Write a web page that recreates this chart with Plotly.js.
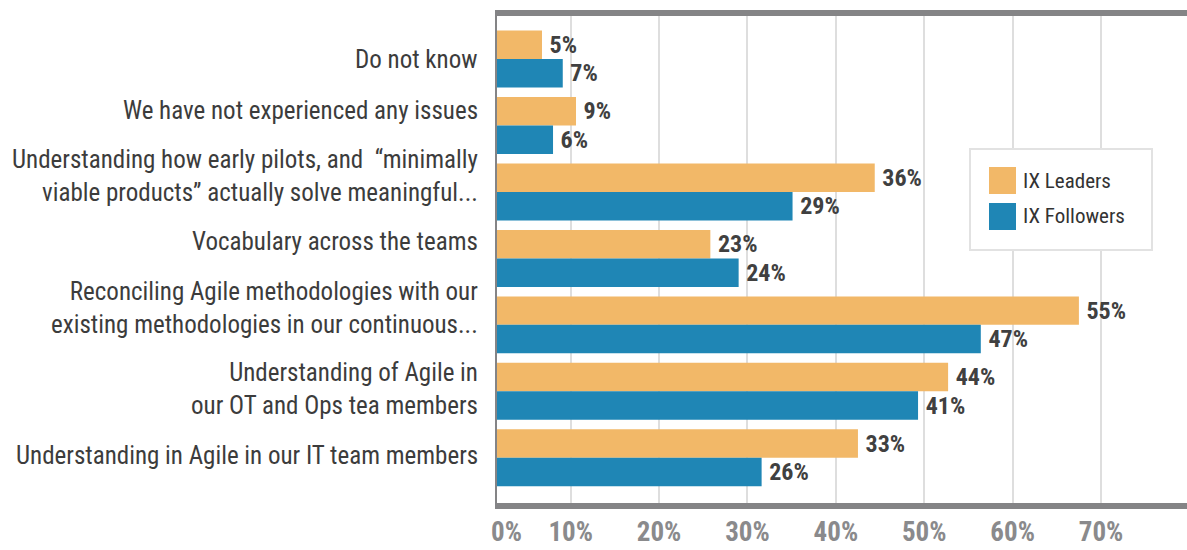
<!DOCTYPE html>
<html>
<head>
<meta charset="utf-8">
<script src="https://cdn.plot.ly/plotly-3.0.1.min.js"></script>
<style>html,body{margin:0;padding:0;background:#fff;}#chart{width:1187px;height:550px;}</style>
</head>
<body>
<div id="chart"></div>
<script>
// ---- data ----
const categories = [
  "Do not know",
  "We have not experienced any issues",
  "Understanding how early pilots, and  \u201cminimally<br>viable products\u201d actually solve meaningful...",
  "Vocabulary across the teams",
  "Reconciling Agile methodologies with our<br>existing methodologies in our continuous...",
  "Understanding of Agile in<br>our OT and Ops tea members",
  "Understanding in Agile in our IT team members"
];
const seriesNames = ["IX Leaders", "IX Followers"];
// bar lengths as drawn against the chart's axis
const leadersValues   = [6.75, 10.6, 44.4, 25.8, 67.5, 52.7, 42.5];
const followersValues = [9.1, 8.0, 35.1, 29.0, 56.4, 49.3, 31.6];
// printed value labels
const leadersLabels   = ["5%", "9%", "36%", "23%", "55%", "44%", "33%"];
const followersLabels = ["7%", "6%", "29%", "24%", "47%", "41%", "26%"];
// axis ticks
const gridVals = [10, 20, 30, 40, 50, 60, 70];
const tickLabelVals = [2.74, 10, 20, 30, 40, 50, 60, 70];
const tickLabelText = ["0%", "10%", "20%", "30%", "40%", "50%", "60%", "70%"];

// ---- styling / layout ----
const colors = ["#F2B868", "#1F86B5"];
const COND = "Roboto Condensed, Liberation Sans, Arial, sans-serif";
const xRange = [1.66, 79.73];
const categoryLabelLift = [0, 15, 15.5, 16.5, 17, 2.5, 2];   // px nudges of the category labels

const labelFont = {family: COND, size: 24, color: "#404040", weight: "bold"};

const traces = [
  {type: "bar", orientation: "h", name: seriesNames[0], y: categories, x: leadersValues,
   text: leadersLabels, texttemplate: "\u2009%{text}", textposition: "outside",
   textfont: labelFont, cliponaxis: false, constraintext: "none",
   marker: {color: colors[0]}, showlegend: false, hoverinfo: "skip"},
  {type: "bar", orientation: "h", name: seriesNames[1], y: categories, x: followersValues,
   text: followersLabels, texttemplate: "\u2009%{text}", textposition: "outside",
   textfont: labelFont, cliponaxis: false, constraintext: "none",
   marker: {color: colors[1]}, showlegend: false, hoverinfo: "skip"},
  // invisible helper trace so the tick-label axis is drawn
  {type: "scatter", x: [tickLabelVals[0]], y: [categories[0]], xaxis: "x2", yaxis: "y",
   mode: "markers", marker: {opacity: 0}, showlegend: false, hoverinfo: "skip"}
];

// legend drawn in pixel-matched paper coords
const L = 497, R = 1187, T = 16, B = 503;
const px = p => (p - L) / (R - L);
const py = p => (B - p) / (B - T);
const shapes = [
  {type: "rect", xref: "paper", yref: "paper", x0: px(970), x1: px(1152), y0: py(250), y1: py(149),
   line: {color: "#e2e2e2", width: 2}, fillcolor: "#ffffff", layer: "above"},
  {type: "rect", xref: "paper", yref: "paper", x0: px(989), x1: px(1016), y0: py(194), y1: py(167),
   line: {width: 0}, fillcolor: colors[0], layer: "above"},
  {type: "rect", xref: "paper", yref: "paper", x0: px(989), x1: px(1016), y0: py(230), y1: py(203),
   line: {width: 0}, fillcolor: colors[1], layer: "above"}
];
const annotations = [
  {xref: "paper", yref: "paper", x: px(1021), y: py(180.5), xanchor: "left", yanchor: "middle",
   text: seriesNames[0], showarrow: false, font: {family: COND, size: 21, color: "#333333"}},
  {xref: "paper", yref: "paper", x: px(1021), y: py(216.5), xanchor: "left", yanchor: "middle",
   text: seriesNames[1], showarrow: false, font: {family: COND, size: 21, color: "#333333"}}
];
categories.forEach((c, i) => {
  annotations.push({xref: "paper", yref: "y", x: 0, y: c, xanchor: "right", yanchor: "middle",
    xshift: -17, yshift: categoryLabelLift[i], align: "right", showarrow: false, text: c,
    font: {family: COND, size: 25, color: "#3c3c3c"}});
});

const layout = {
  width: 1187, height: 550,
  margin: {l: L, r: 0, t: T, b: 550 - B, pad: 0},
  paper_bgcolor: "#ffffff", plot_bgcolor: "#ffffff",
  barmode: "group", bargap: 0.143, bargroupgap: 0,
  showlegend: false,
  xaxis: {range: xRange, tickvals: gridVals, showticklabels: false, ticks: "",
          showgrid: true, gridcolor: "#dedede", gridwidth: 2, zeroline: false,
          showline: true, linecolor: "#848486", linewidth: 6, mirror: true, fixedrange: true},
  xaxis2: {overlaying: "x", anchor: "y", side: "bottom", range: xRange,
           tickvals: tickLabelVals, ticktext: tickLabelText, ticks: "",
           showgrid: false, zeroline: false, showline: false, ticklabelstandoff: 10,
           tickfont: {family: COND, size: 27, color: "#8a8a8c", weight: "bold"}},
  yaxis: {type: "category", categoryarray: categories, range: [6.68, -0.647],
          showgrid: false, zeroline: false, ticks: "", showline: true, showticklabels: false,
          linecolor: "#848486", linewidth: 2.5},
  shapes: shapes, annotations: annotations
};

Plotly.newPlot("chart", traces, layout, {staticPlot: true, displayModeBar: false});
</script>
</body>
</html>
